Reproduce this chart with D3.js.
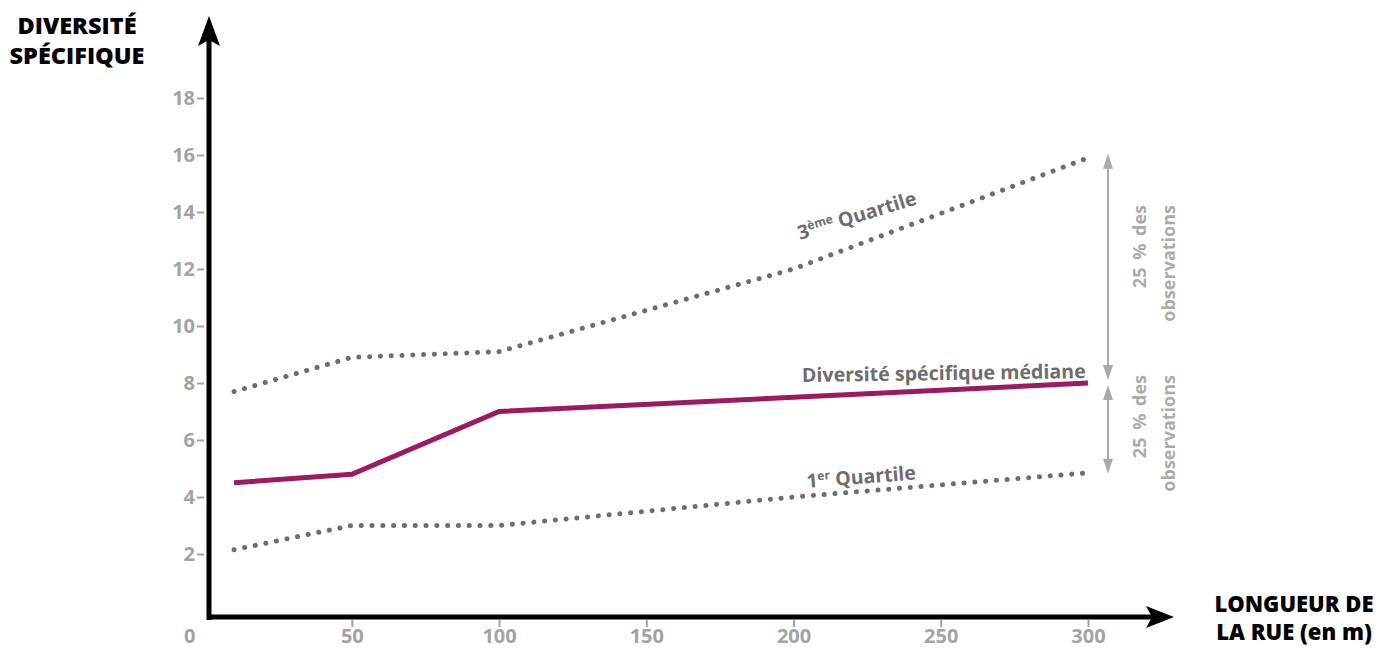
<!DOCTYPE html>
<html>
<head>
<meta charset="utf-8">
<script src="https://cdn.jsdelivr.net/npm/d3@7"></script>
<style>
  body { margin: 0; background: #fff; }
  svg { display: block; font-family: "Open Sans", sans-serif; }
</style>
</head>
<body>
<div id="container"></div>
<script>
// street length (m)
const longueurs = [10, 50, 100, 200, 300];
// species diversity
const quartile3 = [7.7, 8.9, 9.1, 12.0, 15.9];
const mediane = [4.5, 4.8, 7.0, 7.5, 8.0];
const quartile1 = [2.15, 3.0, 3.0, 4.0, 4.85];

const yTicks = [2, 4, 6, 8, 10, 12, 14, 16, 18];
const xTicks = [50, 100, 150, 200, 250, 300];

const width = 1378, height = 648;

const svg = d3.select('#container')
  .append('svg')
  .attr('width', width)
  .attr('height', height);

const x = d3.scaleLinear().domain([0, 300]).range([204.6, 1088]);
const y = d3.scaleLinear().domain([0, 18]).range([611, 98]);

const grey = '#a3a3a3';
const dark = '#6d6d6d';

// Y axis ticks
const yAxis = svg.append('g')
  .attr('transform', 'translate(204,0)')
  .call(d3.axisLeft(y).tickValues(yTicks).tickSize(7).tickPadding(2));
yAxis.select('.domain').remove();
yAxis.selectAll('line').attr('stroke', grey).attr('stroke-width', 2);
yAxis.selectAll('text')
  .attr('fill', grey)
  .style('font-size', '20px')
  .style('font-weight', 700)
  .style('font-family', '"Open Sans", sans-serif');

// X axis ticks
const xAxis = svg.append('g')
  .attr('transform', 'translate(0,620)')
  .call(d3.axisBottom(x).tickValues(xTicks).tickSize(7).tickPadding(2));
xAxis.select('.domain').remove();
xAxis.selectAll('line').attr('stroke', grey).attr('stroke-width', 2);
xAxis.selectAll('text')
  .attr('fill', grey)
  .style('font-size', '20px')
  .style('font-weight', 700)
  .style('font-family', '"Open Sans", sans-serif');

svg.append('text')
  .attr('x', x(0) - 15)
  .attr('y', 643)
  .attr('text-anchor', 'middle')
  .attr('fill', grey)
  .style('font-size', '20px')
  .style('font-weight', 700)
  .text('0');

// axis lines + arrows
svg.append('line')
  .attr('x1', 209).attr('y1', 620)
  .attr('x2', 209).attr('y2', 36)
  .attr('stroke', '#000').attr('stroke-width', 5);
svg.append('path')
  .attr('d', 'M209,16 L220,46 L209,40 L198,46 Z')
  .attr('fill', '#000');

svg.append('line')
  .attr('x1', 207).attr('y1', 617)
  .attr('x2', 1155).attr('y2', 617)
  .attr('stroke', '#000').attr('stroke-width', 5);
svg.append('path')
  .attr('d', 'M1174,617 L1146,606 L1152,617 L1146,628 Z')
  .attr('fill', '#000');

// lines
const line = d3.line()
  .x((d, i) => x(longueurs[i]))
  .y(d => y(d));

svg.append('path')
  .datum(quartile3)
  .attr('d', line)
  .attr('fill', 'none')
  .attr('stroke', dark)
  .attr('stroke-width', 5)
  .attr('stroke-linecap', 'round')
  .attr('stroke-dasharray', '0.1 10.7');

svg.append('path')
  .datum(quartile1)
  .attr('d', line)
  .attr('fill', 'none')
  .attr('stroke', dark)
  .attr('stroke-width', 5)
  .attr('stroke-linecap', 'round')
  .attr('stroke-dasharray', '0.1 10.7');

svg.append('path')
  .datum(mediane)
  .attr('d', line)
  .attr('fill', 'none')
  .attr('stroke', '#9c1a60')
  .attr('stroke-width', 5);

// line labels
const t3 = svg.append('text')
  .attr('transform', 'translate(800,240) rotate(-17)')
  .attr('fill', dark)
  .style('font-size', '19.5px')
  .style('font-weight', 700);
t3.append('tspan').text('3');
t3.append('tspan').attr('dy', -7).style('font-size', '12px').text('ème');
t3.append('tspan').attr('dy', 7).text(' Quartile');

svg.append('text')
  .attr('transform', 'translate(802,382) rotate(-0.8)')
  .attr('fill', dark)
  .style('font-size', '19.6px')
  .style('font-weight', 700)
  .text('Diversité spécifique médiane');

const t1 = svg.append('text')
  .attr('transform', 'translate(807,488) rotate(-4.5)')
  .attr('fill', dark)
  .style('font-size', '19.5px')
  .style('font-weight', 700);
t1.append('tspan').text('1');
t1.append('tspan').attr('dy', -7).style('font-size', '12px').text('er');
t1.append('tspan').attr('dy', 7).text(' Quartile');

// 25 % arrows on the right
const ax = 1108;
const last = longueurs.length - 1;
function doubleArrow(y1, y2) {
  svg.append('line')
    .attr('x1', ax).attr('y1', y1 + 10)
    .attr('x2', ax).attr('y2', y2 - 10)
    .attr('stroke', '#aaa').attr('stroke-width', 2);
  svg.append('path')
    .attr('d', `M${ax},${y1} L${ax + 5},${y1 + 15} L${ax - 5},${y1 + 15} Z`)
    .attr('fill', '#aaa');
  svg.append('path')
    .attr('d', `M${ax},${y2} L${ax + 5},${y2 - 15} L${ax - 5},${y2 - 15} Z`)
    .attr('fill', '#aaa');
}
doubleArrow(y(quartile3[last]) - 4, y(mediane[last]) - 3);
doubleArrow(y(mediane[last]) + 2, y(quartile1[last]) + 1);

function sideText(topY) {
  svg.append('text')
    .attr('transform', `translate(1146,${topY}) rotate(-90)`)
    .attr('text-anchor', 'end')
    .attr('fill', '#ababab')
    .style('font-size', '18px')
    .style('font-weight', 700)
    .style('word-spacing', '3px')
    .text('25 % des');
  svg.append('text')
    .attr('transform', `translate(1175,${topY}) rotate(-90)`)
    .attr('text-anchor', 'end')
    .attr('fill', '#ababab')
    .style('font-size', '18px')
    .style('font-weight', 700)
    .text('observations');
}
sideText(205);
sideText(375);

// axis titles
svg.append('text')
  .attr('x', 77).attr('y', 34)
  .attr('text-anchor', 'middle')
  .style('font-size', '23.5px')
  .style('font-weight', 800)
  .text('DIVERSITÉ');
svg.append('text')
  .attr('x', 77).attr('y', 64)
  .attr('text-anchor', 'middle')
  .style('font-size', '23.5px')
  .style('font-weight', 800)
  .text('SPÉCIFIQUE');

svg.append('text')
  .attr('x', 1294).attr('y', 612)
  .attr('text-anchor', 'middle')
  .style('font-size', '22px')
  .style('font-weight', 800)
  .text('LONGUEUR DE');
svg.append('text')
  .attr('x', 1294).attr('y', 640)
  .attr('text-anchor', 'middle')
  .style('font-size', '22px')
  .style('font-weight', 800)
  .text('LA RUE (en m)');
</script>
</body>
</html>
